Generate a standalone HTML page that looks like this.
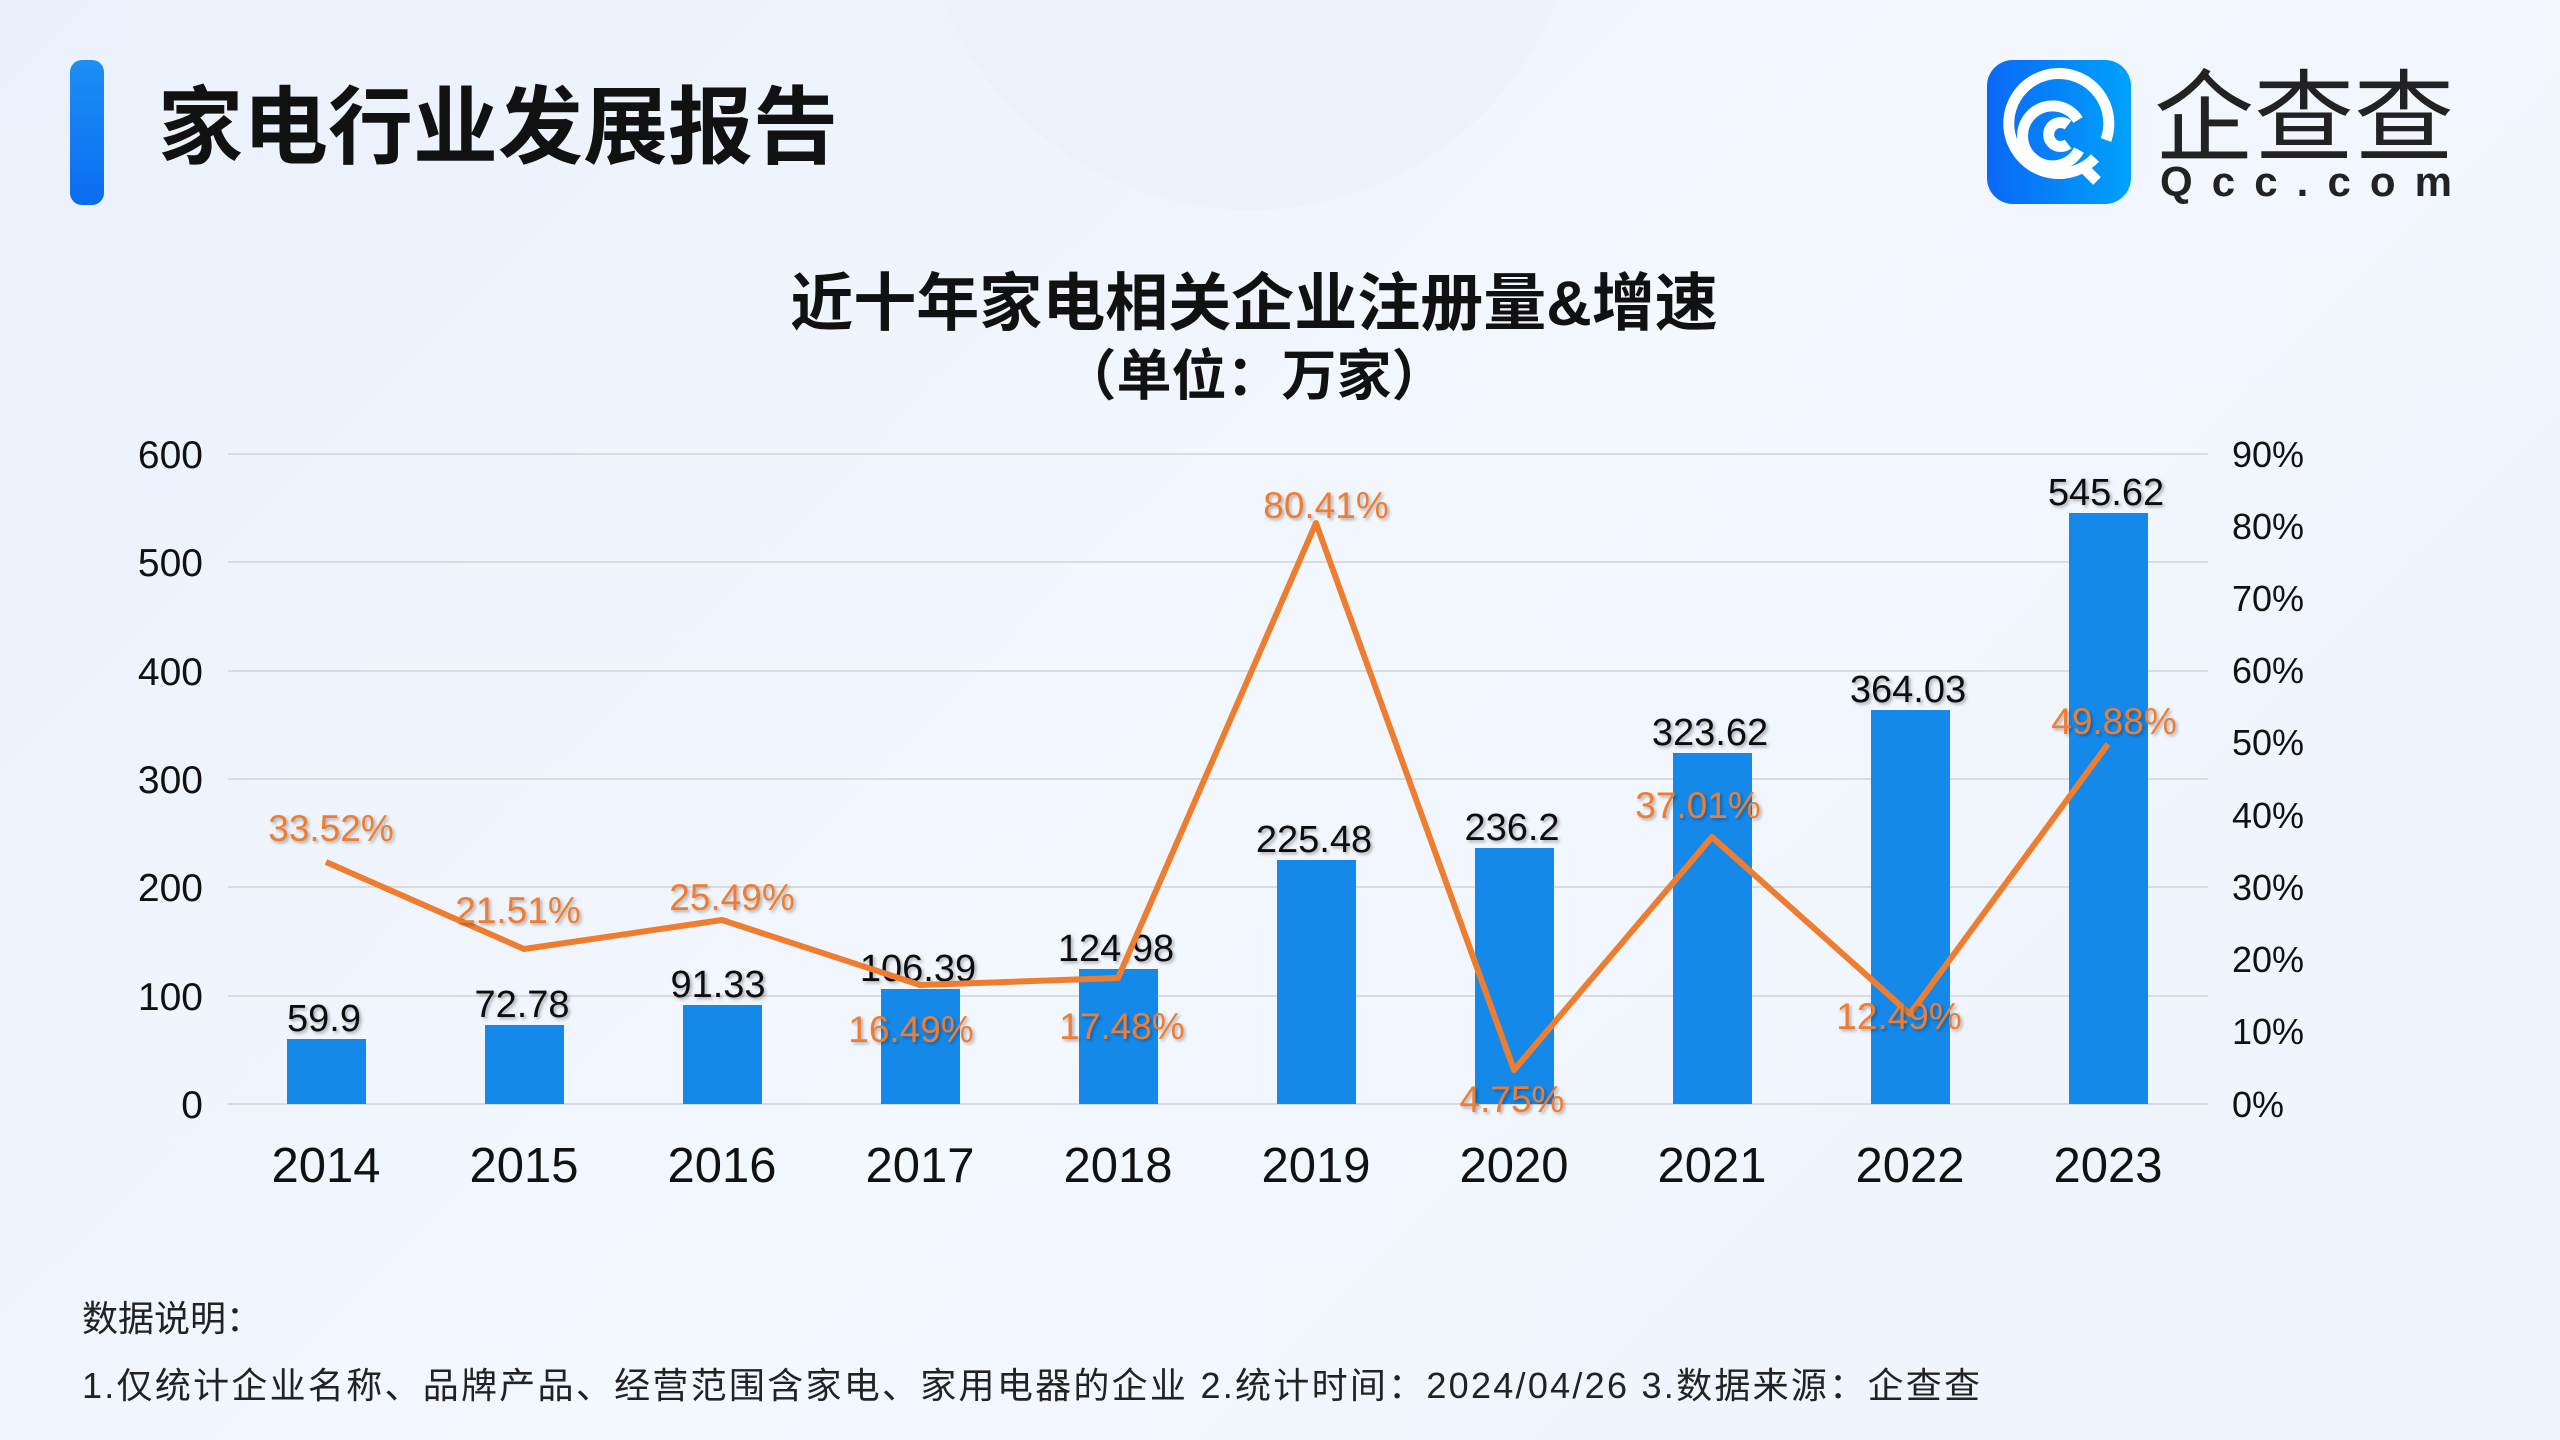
<!DOCTYPE html>
<html><head><meta charset="utf-8"><style>
html,body{margin:0;padding:0}
body{width:2560px;height:1440px;overflow:hidden;background:linear-gradient(135deg,#eaf1fc 0%,#f3f7fe 50%,#eef3fc 100%);font-family:"Liberation Sans","Noto Sans CJK SC",sans-serif;position:relative}
</style></head><body>
<svg width="2560" height="1440" viewBox="0 0 2560 1440" xmlns="http://www.w3.org/2000/svg" style="position:absolute;left:0;top:0;font-family:'Liberation Sans','Noto Sans CJK SC',sans-serif">
<defs>
<linearGradient id="bar" x1="0" y1="0" x2="0" y2="1"><stop offset="0" stop-color="#1d8ff5"/><stop offset="1" stop-color="#0a6cf0"/></linearGradient>
<linearGradient id="ico" x1="0" y1="0" x2="1" y2="0"><stop offset="0" stop-color="#0a68f6"/><stop offset="1" stop-color="#00a2fb"/></linearGradient>
<filter id="sh"><feDropShadow dx="2" dy="2" stdDeviation="1.5" flood-color="#000" flood-opacity="0.3"/></filter>
</defs>
<circle cx="1250" cy="-120" r="330" fill="#e9effb" opacity="0.5"/>
<rect x="70" y="60" width="34" height="145" rx="12" fill="url(#bar)"/>
<text x="158" y="157" font-size="85" font-weight="bold" fill="#111">家电行业发展报告</text>
<!-- logo -->
<rect x="1987" y="60" width="144" height="144" rx="26" fill="url(#ico)"/>
<g fill="none" stroke="#fff" stroke-width="11">
<path d="M2095 158 A50 50 0 1 1 2106 140"/>
<path d="M2078 120 A30 30 0 1 0 2079 150"/>
<path d="M2068 125 A12 12 0 1 0 2068 144"/>
<path d="M2083 167 L2097 181"/>
</g>
<text x="2154" y="153" font-size="100" fill="#222" textLength="300">企查查</text>
<text x="2160" y="196" font-size="42" fill="#222" font-weight="bold" textLength="292">Qcc.com</text>
<!-- title -->
<text x="1254" y="325" font-size="63" font-weight="bold" fill="#111" text-anchor="middle">近十年家电相关企业注册量&amp;增速</text>
<text x="1254" y="395" font-size="55" font-weight="bold" fill="#111" text-anchor="middle">（单位：万家）</text>
<!-- grid -->
<g stroke="#d8dbe0" stroke-width="2">
<line x1="228" y1="454" x2="2208" y2="454"/><line x1="228" y1="562" x2="2208" y2="562"/>
<line x1="228" y1="671" x2="2208" y2="671"/><line x1="228" y1="779" x2="2208" y2="779"/>
<line x1="228" y1="887" x2="2208" y2="887"/><line x1="228" y1="996" x2="2208" y2="996"/>
<line x1="228" y1="1104" x2="2208" y2="1104"/>
</g>
<g font-size="39" fill="#111" text-anchor="end">
<text x="203" y="468">600</text><text x="203" y="576">500</text><text x="203" y="685">400</text>
<text x="203" y="793">300</text><text x="203" y="901">200</text><text x="203" y="1010">100</text><text x="203" y="1118">0</text>
</g>
<g font-size="36" fill="#111">
<text x="2232" y="467">90%</text><text x="2232" y="539">80%</text><text x="2232" y="611">70%</text>
<text x="2232" y="683">60%</text><text x="2232" y="755">50%</text><text x="2232" y="828">40%</text>
<text x="2232" y="900">30%</text><text x="2232" y="972">20%</text><text x="2232" y="1044">10%</text><text x="2232" y="1117">0%</text>
</g>
<g fill="#1589ea">
<rect x="287" y="1039" width="79" height="65"/>
<rect x="485" y="1025" width="79" height="79"/>
<rect x="683" y="1005" width="79" height="99"/>
<rect x="881" y="989" width="79" height="115"/>
<rect x="1079" y="969" width="79" height="135"/>
<rect x="1277" y="860" width="79" height="244"/>
<rect x="1475" y="848" width="79" height="256"/>
<rect x="1673" y="753" width="79" height="351"/>
<rect x="1871" y="710" width="79" height="394"/>
<rect x="2069" y="513" width="79" height="591"/>
</g>
<g font-size="38" fill="#111" text-anchor="middle" filter="url(#sh)">
<text x="324" y="1031">59.9</text>
<text x="522" y="1017">72.78</text>
<text x="718" y="997">91.33</text>
<text x="918" y="981">106.39</text>
<text x="1116" y="961">124.98</text>
<text x="1314" y="852">225.48</text>
<text x="1512" y="840">236.2</text>
<text x="1710" y="745">323.62</text>
<text x="1908" y="702">364.03</text>
<text x="2106" y="505">545.62</text>
</g>
<polyline fill="none" stroke="#ee7d30" stroke-width="6" stroke-linejoin="round" points="326,862 524,949 722,920 920,985 1118,978 1316,523 1514,1070 1712,837 1910,1014 2108,744"/>
<g font-size="37" fill="#ee7d30" text-anchor="middle" filter="url(#sh)">
<text x="331" y="841">33.52%</text>
<text x="518" y="923">21.51%</text>
<text x="732" y="910">25.49%</text>
<text x="911" y="1042">16.49%</text>
<text x="1122" y="1039">17.48%</text>
<text x="1326" y="518">80.41%</text>
<text x="1512" y="1112">4.75%</text>
<text x="1698" y="818">37.01%</text>
<text x="1899" y="1029">12.49%</text>
<text x="2114" y="734">49.88%</text>
</g>
<g font-size="49" fill="#111" text-anchor="middle">
<text x="326" y="1182">2014</text><text x="524" y="1182">2015</text><text x="722" y="1182">2016</text>
<text x="920" y="1182">2017</text><text x="1118" y="1182">2018</text><text x="1316" y="1182">2019</text>
<text x="1514" y="1182">2020</text><text x="1712" y="1182">2021</text><text x="1910" y="1182">2022</text>
<text x="2108" y="1182">2023</text>
</g>
<text x="82" y="1331" font-size="36" fill="#222">数据说明：</text>
<text x="82" y="1398" font-size="36" fill="#222" textLength="1898" lengthAdjust="spacing">1.仅统计企业名称、品牌产品、经营范围含家电、家用电器的企业   2.统计时间：2024/04/26   3.数据来源：企查查</text>
</svg>
</body></html>
